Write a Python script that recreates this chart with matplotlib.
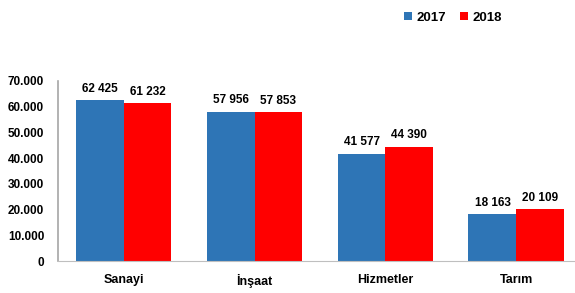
import numpy as np
import matplotlib.pyplot as plt

plt.rcParams["font.family"] = ["Liberation Sans", "DejaVu Sans"]
plt.rcParams["font.weight"] = "bold"

categories = ["Sanayi", "İnşaat", "Hizmetler", "Tarım"]
years = ["2017", "2018"]
values_2017 = [62425, 57956, 41577, 18163]
values_2018 = [61232, 57853, 44390, 20109]
colors = ["#2E75B6", "#FF0000"]


def fmt_space(v):
    return f"{v:,}".replace(",", " ")


fig = plt.figure(figsize=(5.75, 2.93), dpi=100)
ax = fig.add_axes([0.101, 0.109, 0.911, 0.615])

x = np.arange(len(categories))
w = 0.366
for i, (vals, c, lab) in enumerate(zip([values_2017, values_2018], colors, years)):
    pos = x - w / 2 + i * w
    bars = ax.bar(pos, vals, width=w, color=c, label=lab)
    for p, v in zip(pos, vals):
        ax.annotate(fmt_space(v), (p, v), xytext=(0, 4), textcoords="offset points",
                    ha="center", va="bottom", fontsize=8.5, fontweight="bold")

ax.set_xlim(-0.5, 3.5)
ax.set_ylim(0, 70000)
ax.set_yticks(np.arange(0, 70001, 10000))
ax.set_yticklabels([f"{v:,}".replace(",", ".") if v else "0" for v in range(0, 70001, 10000)],
                   fontsize=8.5, fontweight="bold")
ax.set_xticks(x)
ax.set_xticklabels(categories, fontsize=9, fontweight="bold")
ax.tick_params(axis="both", length=0)
ax.tick_params(axis="y", pad=10)
ax.tick_params(axis="x", pad=9)
for s in ["top", "right"]:
    ax.spines[s].set_visible(False)
ax.spines["left"].set_color("#A6A6A6")
ax.spines["bottom"].set_color("#BFBFBF")
ax.spines["left"].set_linewidth(1.2)

fig.legend(loc="upper right", bbox_to_anchor=(0.893, 1.0), ncol=2, frameon=False,
           prop={"size": 9.5, "weight": "bold"}, handlelength=0.6, handleheight=0.6,
           handletextpad=0.3, columnspacing=1.1)

fig.savefig("out.png", dpi=100)
